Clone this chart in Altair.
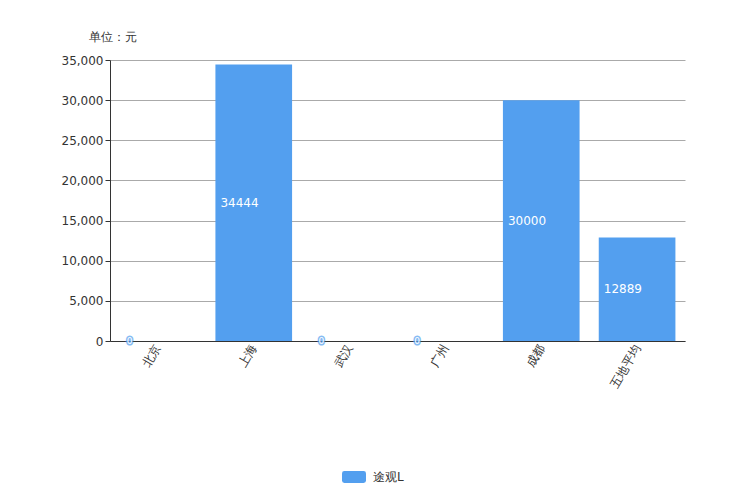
import altair as alt
import pandas as pd

cities = ["北京", "上海", "武汉", "广州", "成都", "五地平均"]
values = [0, 34444, 0, 0, 30000, 12889]
series = "途观L"
y_ticks = [0, 5000, 10000, 15000, 20000, 25000, 30000, 35000]

df = pd.DataFrame({"city": cities, "value": values, "series": [series] * len(cities)})
df["label"] = df["value"].astype(str)
df["mid"] = df["value"] / 2

BLUE = "#539FEF"
FONT = "DejaVu Sans"

x_enc = alt.X("city:N", sort=cities,
              scale=alt.Scale(paddingInner=0.2, paddingOuter=0.1),
              axis=alt.Axis(title=None, labelAngle=-60, labelFontSize=12, labelColor="#333",
                            ticks=False, domainColor="#333", labelPadding=4, labelFont=FONT))

y_axis = alt.Axis(values=y_ticks, labelExpr="format(datum.value, ',')",
                  title="单位：元", titleAngle=0, titleAlign="left",
                  titleX=-22, titleY=-17, titleFontWeight="normal", titleFontSize=12,
                  titleColor="#333", labelFontSize=12, labelColor="#333",
                  gridColor="#aaa", gridWidth=1, domainColor="#333", tickColor="#333",
                  tickSize=5, labelFont=FONT, titleFont=FONT)
y_scale = alt.Scale(domain=[0, 35000])

bars = alt.Chart(df).mark_bar(color=BLUE).encode(
    x=x_enc,
    y=alt.Y("value:Q", scale=y_scale, axis=y_axis),
    color=alt.Color("series:N", scale=alt.Scale(range=[BLUE]),
                    legend=alt.Legend(title=None, orient="none", legendX=232, legendY=405,
                                      symbolType="M-0.8,-0.5 L0.8,-0.5 Q1,-0.5 1,-0.3 L1,0.3 Q1,0.5 0.8,0.5 L-0.8,0.5 Q-1,0.5 -1,0.3 L-1,-0.3 Q-1,-0.5 -0.8,-0.5 Z",
                                      symbolSize=576, symbolStrokeWidth=0, symbolOpacity=1,
                                      labelOffset=7,
                                      labelFontSize=12, labelColor="#333", labelFont=FONT)),
)

label_x = alt.X("city:N", sort=cities, bandPosition=0)
mid_y = alt.Y("mid:Q", scale=y_scale, axis=y_axis)

texts = alt.Chart(df).transform_filter("datum.value > 0").mark_text(
    align="left", baseline="middle", dx=5, color="white", fontSize=12, font=FONT).encode(
    x=label_x, y=mid_y, text="label:N")

zero_bg = alt.Chart(df).transform_filter("datum.value == 0").mark_text(
    align="center", baseline="middle", dx=10, color="white", fontSize=9,
    stroke=BLUE, strokeWidth=3, font=FONT, opacity=0.7).encode(
    x=label_x, y=mid_y, text="label:N")

zero_fg = alt.Chart(df).transform_filter("datum.value == 0").mark_text(
    align="center", baseline="middle", dx=10, color="white", fontSize=9, font=FONT).encode(
    x=label_x, y=mid_y, text="label:N")

chart = alt.layer(bars, texts, zero_bg, zero_fg).properties(
    width=575, height=281,
    autosize=alt.AutoSizeParams(type="none"),
    padding={"left": 102, "top": 52, "right": 51, "bottom": 147},
).configure(font=FONT).configure_view(stroke=None)

chart.save("out.html", embed_options={"renderer": "svg", "actions": False})
